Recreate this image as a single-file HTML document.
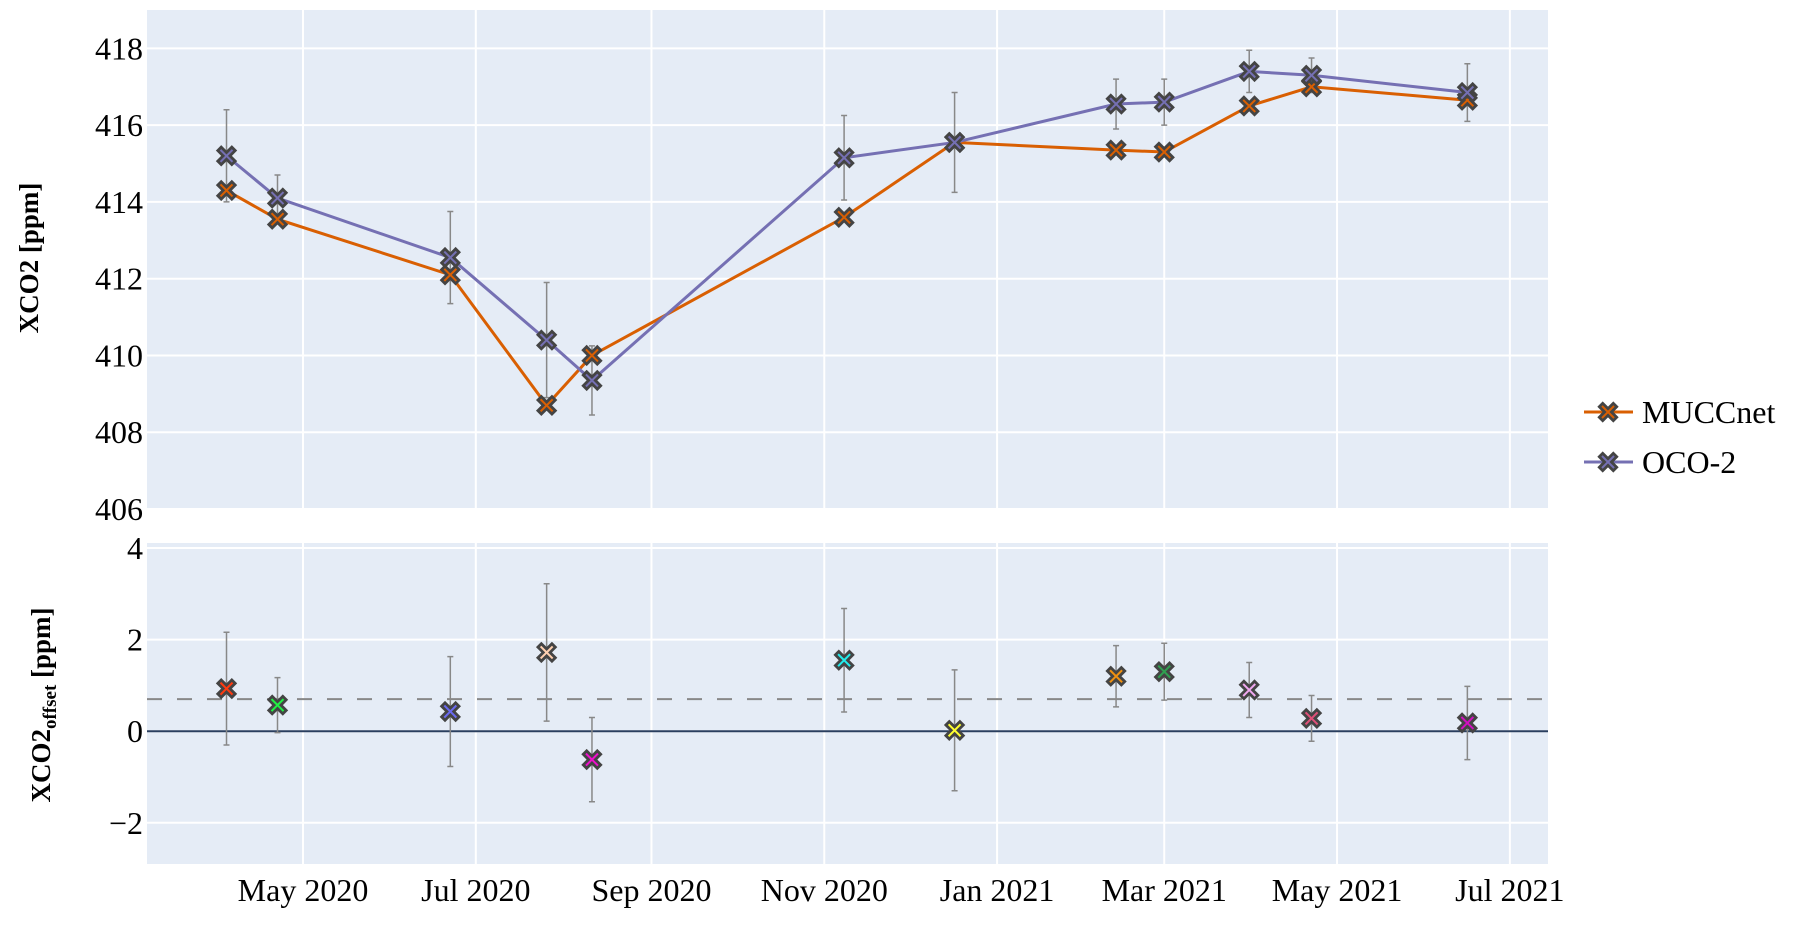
<!DOCTYPE html>
<html><head><meta charset="utf-8"><style>
html,body{margin:0;padding:0;background:#fff;}
text{font-family:"Liberation Serif","Times New Roman",serif !important;fill:#000;}
</style></head><body>
<svg id="chart" width="1808" height="920" xmlns="http://www.w3.org/2000/svg" font-family="Liberation Serif, serif">
<g id="g"></g>
</svg>
<script>
const dates = ["2020-04-04","2020-04-22","2020-06-22","2020-07-26","2020-08-11","2020-11-08","2020-12-17","2021-02-12","2021-03-01","2021-03-31","2021-04-22","2021-06-16"];
const muccnet = [414.3,413.55,412.1,408.7,410.0,413.6,415.55,415.35,415.3,416.5,417.0,416.65];
const oco2 = [415.2,414.1,412.55,410.4,409.35,415.15,415.55,416.55,416.6,417.4,417.3,416.85];
const oco2Err = [1.2,0.6,1.2,1.5,0.9,1.1,1.3,0.65,0.6,0.55,0.45,0.75];
const offset = [0.93,0.57,0.43,1.72,-0.62,1.55,0.02,1.2,1.3,0.9,0.28,0.18];
const offsetErr = [1.23,0.6,1.2,1.5,0.92,1.13,1.32,0.67,0.62,0.6,0.5,0.8];
const offsetColors = ["#ff3a10","#22ee44","#6a6af0","#ffd0b0","#ee10cc","#22eeee","#ffff30","#f09010","#30a050","#f0a8f0","#e05078","#d010c0"];
const meanOffset = 0.7;
const xTickDates = ["2020-05-01","2020-07-01","2020-09-01","2020-11-01","2021-01-01","2021-03-01","2021-05-01","2021-07-01"];
const xTickLabels = ["May 2020","Jul 2020","Sep 2020","Nov 2020","Jan 2021","Mar 2021","May 2021","Jul 2021"];
const yTopTicks = [406,408,410,412,414,416,418];
const yBotTicks = [-2,0,2,4];

const NS="http://www.w3.org/2000/svg";
const g=document.getElementById('g');
const FONT='Liberation Serif, serif';
function el(t,a,p){const e=document.createElementNS(NS,t);for(const k in a)e.setAttribute(k,a[k]);if(t==='text')e.setAttribute('font-family',FONT);(p||g).appendChild(e);return e;}
const L=147,R=1548;
const d0=Date.parse("2020-05-01");
function X(d){return 303+(Date.parse(d)-d0)/86400000*2.833;}
const T={top:10,bot:509,min:406,max:419};
const B={top:543,bot:864,min:-2.9,max:4.11};
function Y(p,v){return p.bot-(v-p.min)/(p.max-p.min)*(p.bot-p.top);}

function panel(p,ticks,name){
  const bg=el('rect',{x:L,y:p.top,width:R-L,height:p.bot-p.top,fill:'#e5ecf6'});
  
  xTickDates.forEach(d=>{const l=el('line',{x1:X(d),x2:X(d),y1:p.top,y2:p.bot,stroke:'#fff','stroke-width':2});
    });
  ticks.forEach(v=>{const y=Y(p,v);
    const l=el('line',{x1:L,x2:R,y1:y,y2:y,stroke:'#fff','stroke-width':2});
    
    const t=el('text',{x:L-4,y:y+11,'text-anchor':'end','font-size':32});t.textContent=String(v).replace('-','\u2212');
    });
}
panel(T,yTopTicks,'top');
panel(B,yBotTicks,'bottom');

function marker(x,y,fill,name){
  const s=7,w=3.4;
  const d=`M${x-s-w/2} ${y-s+w/2} L${x-s+w/2} ${y-s-w/2} L${x} ${y-w} L${x+s-w/2} ${y-s-w/2} L${x+s+w/2} ${y-s+w/2} L${x+w} ${y} L${x+s+w/2} ${y+s-w/2} L${x+s-w/2} ${y+s+w/2} L${x} ${y+w} L${x-s+w/2} ${y+s+w/2} L${x-s-w/2} ${y+s-w/2} L${x-w} ${y} Z`;
  const m=el('path',{d:d,fill:fill,stroke:'#444','stroke-width':2.8,'stroke-linejoin':'miter'});
  
}
function errbar(x,y1,y2,name){
  const e=el('path',{d:`M${x} ${y1}V${y2}M${x-3} ${y1}H${x+3}M${x-3} ${y2}H${x+3}`,stroke:'#888','stroke-width':1.5,fill:'none'});
  
}
oco2.forEach((v,i)=>errbar(X(dates[i]),Y(T,v+oco2Err[i]),Y(T,v-oco2Err[i]),'oco2-error-bar'));
function series(vals,color,name){
  const pl=el('polyline',{points:vals.map((v,i)=>X(dates[i])+','+Y(T,v)).join(' '),fill:'none',stroke:color,'stroke-width':3});
  
  vals.forEach((v,i)=>marker(X(dates[i]),Y(T,v),color,name+'-point'));
}
series(muccnet,'#d95f02','muccnet');
series(oco2,'#7570b3','oco2');
const z=el('line',{x1:L,x2:R,y1:Y(B,0),y2:Y(B,0),stroke:'#2a3f5f','stroke-width':2});

const dl=el('line',{x1:L,x2:R,y1:Y(B,meanOffset),y2:Y(B,meanOffset),stroke:'#888','stroke-width':2,'stroke-dasharray':'15,15'});

offset.forEach((v,i)=>errbar(X(dates[i]),Y(B,v+offsetErr[i]),Y(B,v-offsetErr[i]),'offset-error-bar'));
offset.forEach((v,i)=>marker(X(dates[i]),Y(B,v),offsetColors[i],'offset-point'));
xTickDates.forEach((d,i)=>{const t=el('text',{x:X(d),y:901,'text-anchor':'middle','font-size':32});t.textContent=xTickLabels[i];
  });
const t1=el('text',{x:0,y:0,transform:'translate(38,258) rotate(-90)','text-anchor':'middle','font-size':27,'font-weight':'bold'});
t1.textContent='XCO2 [ppm]';
const t2=el('text',{x:0,y:0,transform:'translate(50,705) rotate(-90)','text-anchor':'middle','font-size':27,'font-weight':'bold'});
t2.innerHTML='XCO2<tspan font-size="19" dy="6">offset</tspan><tspan dy="-6"> [ppm]</tspan>';

[['MUCCnet','#d95f02',412],['OCO-2','#7570b3',462]].forEach(([n,c,y])=>{
  const gg=el('g',{});
  el('line',{x1:1584,x2:1633,y1:y,y2:y,stroke:c,'stroke-width':3},gg);
  const t=el('text',{x:1642,y:y+11,'font-size':32},gg);t.textContent=n;
  marker(1608,y,c,'legend-marker');
});
</script>
</body></html>
